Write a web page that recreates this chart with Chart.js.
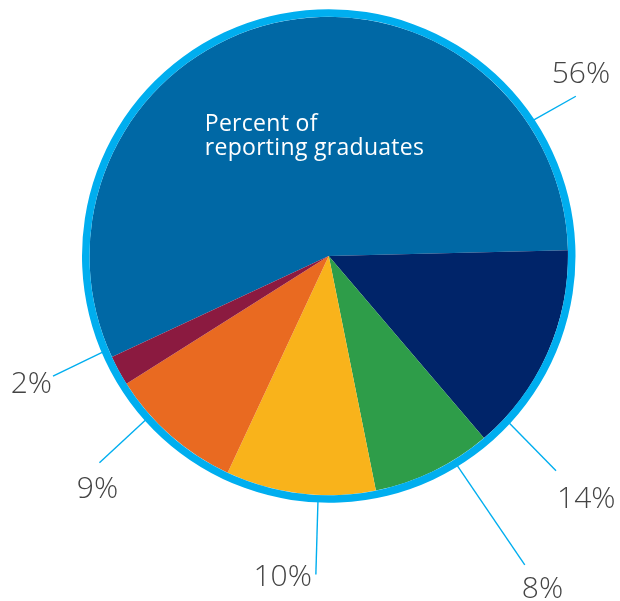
<!DOCTYPE html>
<html>
<head>
<meta charset="utf-8">
<script src="https://cdn.jsdelivr.net/npm/chart.js@4"></script>
<style>
  html, body { margin: 0; padding: 0; background: #ffffff; }
  #wrap { width: 620px; height: 601px; }
</style>
</head>
<body>
<div id="wrap"><canvas id="c" width="620" height="601"></canvas></div>
<script>
// ---- data ----
const categories = ['56%', '14%', '8%', '10%', '9%', '2%'];
const values = [56, 14, 8, 10, 9, 2];
const valueLabels = ['56%', '14%', '8%', '10%', '9%', '2%'];
const centerText = ['Percent of', 'reporting graduates'];

// ---- styles ----
const sliceColors = ['#0068a5', '#002469', '#2e9d49', '#f9b31b', '#e96a21', '#8b1a40'];
const ringColor = '#00aeef';
const textColor = '#444444';
// leader line config per label: angle shifts from slice middle (deg), length, text align, text offset
const leaderCfg = [
  { shift: 69.6, endShift: 70.3, len: 47.5, align: 'center', dx: 5, dy: -13 },
  { shift: 18.7, endShift: 19.3, len: 66, align: 'left', dx: 1, dy: 37 },
  { shift: -5.6, endShift: -6.5, len: 119, align: 'left', dx: -3, dy: 33 },
  { shift: -4.3, endShift: -4.5, len: 72, align: 'right', dx: -4, dy: 12 },
  { shift: 6.8, endShift: 6.6, len: 62, align: 'center', dx: -2, dy: 35 },
  { shift: 5.6, endShift: 5.1, len: 54, align: 'right', dx: -1, dy: 17 }
];

const labelPlugin = {
  id: 'pieLabels',
  afterDatasetsDraw(chart) {
    const ctx = chart.ctx;
    const ringMeta = chart.getDatasetMeta(0);
    const pieMeta = chart.getDatasetMeta(1);
    const ringR = ringMeta.data[0].outerRadius;
    const d2r = Math.PI / 180;
    ctx.save();
    pieMeta.data.forEach((arc, i) => {
      const cfg = leaderCfg[i];
      const mid = (arc.startAngle + arc.endAngle) / 2;
      const a1 = mid + cfg.shift * d2r;
      const a2 = mid + cfg.endShift * d2r;
      const x1 = arc.x + Math.cos(a1) * (ringR - 0.5);
      const y1 = arc.y + Math.sin(a1) * (ringR - 0.5);
      const x2 = arc.x + Math.cos(a2) * (ringR + cfg.len);
      const y2 = arc.y + Math.sin(a2) * (ringR + cfg.len);
      ctx.beginPath();
      ctx.moveTo(x1, y1);
      ctx.lineTo(x2, y2);
      ctx.strokeStyle = ringColor;
      ctx.lineWidth = 1.4;
      ctx.stroke();
      ctx.fillStyle = textColor;
      ctx.font = '300 30px "Open Sans", Lato, sans-serif';
      ctx.textAlign = cfg.align;
      ctx.textBaseline = 'alphabetic';
      ctx.fillText(valueLabels[i], x2 + cfg.dx, y2 + cfg.dy);
    });
    const a = pieMeta.data[0];
    ctx.fillStyle = '#ffffff';
    ctx.font = '400 23px "Open Sans", Lato, sans-serif';
    if ('letterSpacing' in ctx) ctx.letterSpacing = '0.3px';
    ctx.textAlign = 'left';
    ctx.fillText(centerText[0], a.x - 124, a.y - 125);
    ctx.fillText(centerText[1], a.x - 124, a.y - 101);
    ctx.restore();
  }
};

new Chart(document.getElementById('c'), {
  type: 'pie',
  data: {
    labels: categories,
    datasets: [
      { data: [1], backgroundColor: [ringColor], borderWidth: 0, weight: 7.5 },
      { data: values, backgroundColor: sliceColors, borderWidth: 0, weight: 239.5 }
    ]
  },
  options: {
    responsive: false,
    animation: false,
    devicePixelRatio: 1,
    rotation: -115,
    layout: { padding: { left: 82, top: 9, right: 44.5, bottom: 98 } },
    plugins: { legend: { display: false }, tooltip: { enabled: false } }
  },
  plugins: [labelPlugin]
});
</script>
</body>
</html>
